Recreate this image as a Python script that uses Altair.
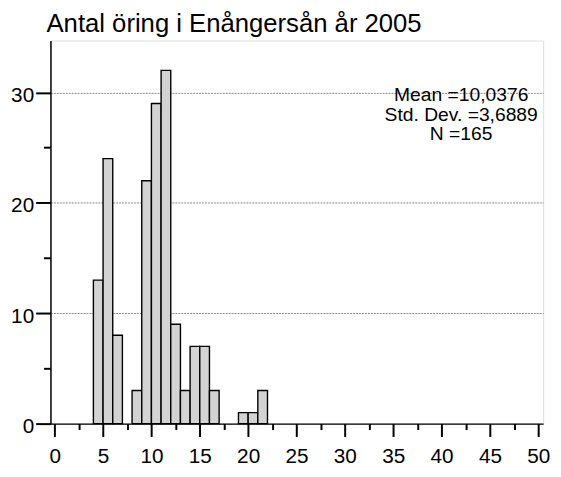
import altair as alt
import pandas as pd

# Histogram data (bin width 1)
bin_start = [4, 5, 6, 8, 9, 10, 11, 12, 13, 14, 15, 16, 19, 20, 21]
counts = [13, 24, 8, 3, 22, 29, 32, 9, 3, 7, 7, 3, 1, 1, 3]
bin_width = 1

x_ticks = [v * 2.5 for v in range(0, 21)]
y_ticks = [0, 5, 10, 15, 20, 25, 30]

title_text = "Antal öring i Enångersån år 2005"
stats_lines = ["Mean =10,0376", "Std. Dev. =3,6889", "N =165"]

FONT = "Liberation Sans"

df = pd.DataFrame({
    "start": bin_start,
    "end": [s + bin_width for s in bin_start],
    "count": counts,
})

xscale = alt.Scale(domain=[-0.44, 50.5], nice=False, zero=False)
yscale = alt.Scale(domain=[0, 34.7], nice=False, zero=False)

bars = alt.Chart(df).mark_bar(
    fill="#d3d3d3", stroke="black", strokeWidth=1.4
).encode(
    x=alt.X("start:Q", scale=xscale, title=None,
            axis=alt.Axis(
                values=x_ticks,
                labelExpr="datum.value % 5 === 0 ? datum.label : ''",
                labelOverlap=False, labelFlush=False,
                tickSize={"condition": {"test": "datum.value % 5 === 0", "value": 13}, "value": 6},
                tickWidth=2, tickColor="black",
                domainColor="black", domainWidth=1.5,
                labelFont=FONT, labelFontSize=21, labelColor="black",
                labelPadding=9, grid=False,
            )),
    x2="end:Q",
    y=alt.Y("count:Q", scale=yscale, title=None,
            axis=alt.Axis(
                values=y_ticks,
                labelExpr="datum.value % 10 === 0 ? datum.label : ''",
                labelOverlap=False, labelFlush=False,
                tickSize={"condition": {"test": "datum.value % 10 === 0", "value": 15}, "value": 7},
                tickWidth=2, tickColor="black",
                domainColor="black", domainWidth=1.5,
                labelFont=FONT, labelFontSize=21, labelColor="black",
                labelPadding=2, labelOffset=3,
                grid=True, gridColor="#888888", gridDash=[2, 1], gridWidth=1,
                gridOpacity={"condition": {"test": "datum.value % 10 === 0 && datum.value > 0", "value": 1}, "value": 0},
            )),
    y2=alt.datum(0),
)

stats = alt.Chart(pd.DataFrame({"t": [stats_lines]})).mark_text(
    font=FONT, fontSize=19.5, color="black", align="center",
    baseline="middle", lineHeight=20,
).encode(
    text="t",
    x=alt.value(416),
    y=alt.value(55),
)

title = alt.Chart(pd.DataFrame({"t": [title_text]})).mark_text(
    font=FONT, fontSize=26, color="black", align="left",
    baseline="alphabetic",
).encode(
    text="t",
    x=alt.value(-4),
    y=alt.value(-9),
)

chart = alt.layer(bars, stats, title).properties(
    width=499,
    height=388,
    padding={"left": 43, "top": 30, "right": 10, "bottom": 43},
    autosize=alt.AutoSizeParams(type="none"),
).configure_view(
    stroke="#555555", strokeWidth=1.3
).configure(background="white")

chart.save("out.html", embed_options={"renderer": "svg", "actions": False})
